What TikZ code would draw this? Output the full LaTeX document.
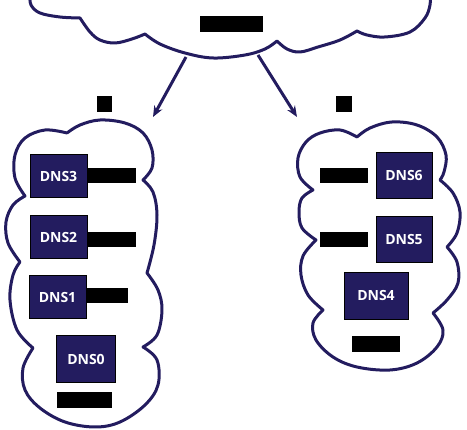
\documentclass[tikz,border=0pt]{standalone}
\usepackage{fontspec}
\setmainfont{Open Sans}
\usetikzlibrary{arrows.meta}
\definecolor{navy}{RGB}{35,28,95}
\tikzset{
  cloudline/.style={draw=navy, line width=3pt, line join=round, line cap=round},
  dnsbox/.style={fill=navy, draw=black, line width=1pt, text=white, inner sep=0pt,
     font=\fontsize{14}{16}\selectfont\bfseries, minimum width=57pt, minimum height=43pt},
  blk/.style={fill=black, inner sep=0pt},
  conn/.style={draw=navy, line width=3pt, -{Stealth[length=11pt,width=9pt]}},
}
\begin{document}
\begin{tikzpicture}[x=1pt,y=-1pt]
\useasboundingbox (0,0) rectangle (467,430);
\clip (0,0) rectangle (467,430);
% top cloud (cut off at the top)
\draw[cloudline] plot[smooth,tension=0.6] coordinates {(30,-5) (31,5) (40,13) (60,17) (80,18)}
  -- plot[smooth,tension=0.6] coordinates {(80,18) (90,32) (100,40) (115,43) (132,39) (145,34)}
  -- plot[smooth,tension=0.6] coordinates {(145,34) (160,44) (185,53) (213,58) (245,55) (265,49) (277,41)}
  -- plot[smooth,tension=0.6] coordinates {(277,41) (287,49) (300,52) (318,47) (340,40) (357,31)}
  -- plot[smooth,tension=0.6] coordinates {(357,31) (367,35) (385,37) (410,32) (425,18) (430,5) (430,-5)};
% left cloud
\draw[cloudline] plot[smooth,tension=0.6] coordinates {(67,133) (80,125) (100,120) (125,123) (143,133) (152,150) (152,168) (143,180)}
  -- plot[smooth,tension=0.6] coordinates {(143,180) (153,192) (157,215) (154,245) (147,273)}
  -- plot[smooth,tension=0.6] coordinates {(147,273) (158,290) (162,310) (157,335) (143,347)}
  -- plot[smooth,tension=0.6] coordinates {(143,347) (157,360) (158,385) (145,405) (120,422) (95,427) (65,422) (40,408) (25,390) (23,368) (33,348)}
  -- plot[smooth,tension=0.6] coordinates {(33,348) (17,330) (10,300) (13,275) (20,262)}
  -- plot[smooth,tension=0.6] coordinates {(20,262) (8,243) (6,222) (13,205) (25,196)}
  -- plot[smooth,tension=0.6] coordinates {(25,196) (15,178) (15,155) (25,138) (45,130) (67,133)};
% right cloud
\draw[cloudline] plot[smooth,tension=0.6] coordinates {(357,137) (370,128) (392,122) (417,125) (437,137) (446,155) (444,172) (440,180)}
  -- plot[smooth,tension=0.6] coordinates {(440,180) (453,193) (460,212) (457,233) (447,247)}
  -- plot[smooth,tension=0.6] coordinates {(447,247) (457,262) (458,283) (447,300) (433,313)}
  -- plot[smooth,tension=0.6] coordinates {(433,313) (443,330) (437,347) (417,363) (390,370) (357,367) (333,357) (316,340) (313,323) (323,310)}
  -- plot[smooth,tension=0.6] coordinates {(323,310) (308,295) (301,275) (303,256) (316,240)}
  -- plot[smooth,tension=0.6] coordinates {(316,240) (302,228) (299,212) (302,198) (313,190)}
  -- plot[smooth,tension=0.6] coordinates {(313,190) (300,177) (298,158) (306,142) (320,133) (340,130) (357,137)};
% labels (black)
\node[blk, minimum width=63pt, minimum height=16pt] (ltop) at (231.5,24) {};
\node[blk, minimum width=15pt, minimum height=16pt] (la) at (104,104) {};
\node[blk, minimum width=16pt, minimum height=16pt] (lb) at (344,104) {};
% DNS boxes
\node[dnsbox] (d3) at (58.5,176.5) {DNS3};
\node[dnsbox] (d2) at (58.5,237.5) {DNS2};
\node[dnsbox] (d1) at (57.5,297.5) {DNS1};
\node[dnsbox, minimum width=59pt, minimum height=47pt] (d0) at (86,359) {DNS0};
\node[dnsbox, minimum width=56pt, minimum height=46pt] (d6) at (404,176) {DNS6};
\node[dnsbox, minimum width=56pt, minimum height=46pt] (d5) at (404,240) {DNS5};
\node[dnsbox, minimum width=64pt, minimum height=47pt] (d4) at (376,296) {DNS4};
\node[blk, minimum width=49pt, minimum height=15pt] (l3) at (111.5,175.5) {};
\node[blk, minimum width=49pt, minimum height=15pt] (l2) at (111.5,239.5) {};
\node[blk, minimum width=41pt, minimum height=15pt] (l1) at (107.5,295.5) {};
\node[blk, minimum width=55pt, minimum height=16pt] (l0) at (84.5,400) {};
\node[blk, minimum width=48pt, minimum height=15pt] (l6) at (344,175.5) {};
\node[blk, minimum width=48pt, minimum height=15pt] (l5) at (344,239.5) {};
\node[blk, minimum width=48pt, minimum height=16pt] (l4) at (376,344) {};
% connectors
\coordinate (s1) at (186,57);
\coordinate (e1) at (153,117);
\coordinate (s2) at (258,55);
\coordinate (e2) at (297,117);
\draw[conn] (s1) -- (e1);
\draw[conn] (s2) -- (e2);
\end{tikzpicture}
\end{document}
